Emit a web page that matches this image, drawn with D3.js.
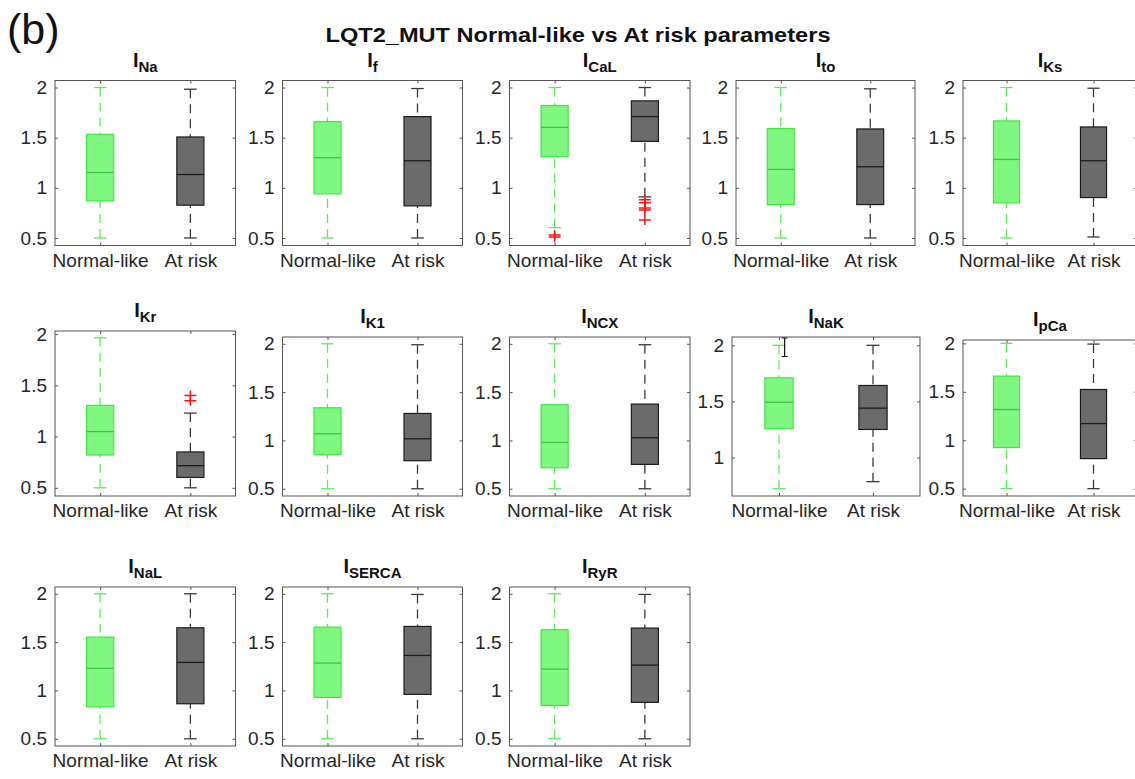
<!DOCTYPE html>
<html>
<head>
<meta charset="utf-8">
<script src="https://cdn.jsdelivr.net/npm/d3@7"></script>
<style>
  body { margin: 0; background: #fff; }
  text { font-family: "Liberation Sans", Arial, sans-serif; }
</style>
</head>
<body>
<svg id="chart" width="1135" height="779"></svg>
<script>
// subscripts of the current names, one panel each
const currents = ["Na", "f", "CaL", "to", "Ks", "Kr", "K1", "NCX", "NaK", "pCa", "NaL", "SERCA", "RyR"];
const groups = ["Normal-like", "At risk"];

// [lower whisker, Q1, median, Q3, upper whisker]
const normalStats = [
    [0.50, 0.87, 1.153, 1.533, 2.00],   // Na
    [0.50, 0.94, 1.30, 1.66, 2.00],     // f
    [0.603, 1.31, 1.603, 1.82, 2.00],   // CaL
    [0.50, 0.833, 1.183, 1.59, 2.00],   // to
    [0.50, 0.85, 1.283, 1.667, 2.00],   // Ks
    [0.50, 0.82, 1.049, 1.304, 1.964],  // Kr
    [0.50, 0.852, 1.069, 1.338, 2.00],  // K1
    [0.50, 0.717, 0.979, 1.369, 2.00],  // NCX
    [0.722, 1.257, 1.493, 1.71, 2.00],  // NaK
    [0.50, 0.924, 1.317, 1.662, 2.00],  // pCa
    [0.50, 0.831, 1.228, 1.552, 2.00],  // NaL
    [0.50, 0.928, 1.283, 1.655, 2.00],  // SERCA
    [0.50, 0.845, 1.221, 1.628, 2.00]   // RyR
];
const riskStats = [
    [0.50, 0.827, 1.133, 1.507, 1.983],
    [0.50, 0.82, 1.27, 1.71, 1.99],
    [0.91, 1.463, 1.71, 1.867, 2.00],
    [0.50, 0.833, 1.21, 1.587, 1.987],
    [0.51, 0.903, 1.27, 1.607, 1.993],
    [0.50, 0.601, 0.716, 0.85, 1.229],
    [0.50, 0.79, 1.017, 1.279, 1.99],
    [0.50, 0.752, 1.028, 1.376, 1.99],
    [0.785, 1.25, 1.44, 1.642, 2.00],
    [0.50, 0.81, 1.172, 1.524, 1.993],
    [0.50, 0.862, 1.29, 1.648, 2.00],
    [0.50, 0.959, 1.362, 1.662, 1.993],
    [0.50, 0.876, 1.262, 1.645, 1.993]
];
const normalOutliers = [[], [], [0.51, 0.53], [], [], [], [], [], [], [], [], [], []];
const riskOutliers = [[], [], [0.88, 0.85, 0.80, 0.78, 0.68], [], [], [1.40, 1.35], [], [], [], [], [], [], []];

const yTicks = [0.5, 1, 1.5, 2];
const yTicksNaK = [1, 1.5, 2];
const yDomain = [0.425, 2.07];

// layout of the subplot grid (MATLAB squeezed some axes a little)
const colX = [55, 282.5, 509.5, 736, 963];
const colW = [180.5, 180, 180.5, 179, 174];
const rowTop = [80.5, 337, 587];
const rowBottom = [245.5, 496, 746];
const override = {
    Kr: { top: 331, domain: [0.42, 2.03] },
    NaK: { x: 732, w: 188, domain: [0.657, 2.074], ticks: yTicksNaK },
    pCa: { top: 340, domain: [0.424, 2.035] }
};

const green = { fill: "#80f780", stroke: "#3fe83f", median: "#3cc43c", whisk: "#5ceb5c" };
const grey = { fill: "#6b6b6b", stroke: "#1c1c1c", median: "#1c1c1c", whisk: "#3a3a3a" };
const frameColor = "#555";
const textColor = "#262626";

const svg = d3.select("#chart");

svg.append("text")
    .attr("x", 7).attr("y", 44)
    .attr("font-size", 43).attr("fill", "#111")
    .text("(b)");

svg.append("text")
    .attr("x", 578).attr("y", 42)
    .attr("text-anchor", "middle")
    .attr("font-size", 21).attr("font-weight", "bold").attr("fill", "#111")
    .attr("textLength", 505).attr("lengthAdjust", "spacingAndGlyphs")
    .text("LQT2_MUT Normal-like vs At risk parameters");

function plus(sel, x, y) {
    sel.append("path")
        .attr("d", `M${x - 6},${y}H${x + 6}M${x},${y - 5}V${y + 5}`)
        .attr("stroke", "#ff1010").attr("stroke-width", 1.5).attr("fill", "none");
}

currents.forEach(function(name, i) {
    const row = Math.floor(i / 5), col = i % 5;
    const o = override[name] || {};
    const x0 = o.x !== undefined ? o.x : colX[col];
    const w = o.w !== undefined ? o.w : colW[col];
    const top = o.top !== undefined ? o.top : rowTop[row];
    const h = rowBottom[row] - top;

    const xScale = d3.scaleLinear().domain([0.5, 2.5]).range([0, w]);
    const yScale = d3.scaleLinear().domain(o.domain || yDomain).range([h, 0]);
    const ticks = o.ticks || yTicks;

    const g = svg.append("g").attr("transform", `translate(${x0},${top})`);

    // title I_{name}
    const t = g.append("text")
        .attr("x", w / 2).attr("y", -14)
        .attr("text-anchor", "middle")
        .attr("font-weight", "bold").attr("fill", "#111");
    t.append("tspan").attr("font-size", 20).text("I");
    t.append("tspan").attr("font-size", 15).attr("dy", 5).text(name);

    // axes, MATLAB style: ticks inside on all four sides
    const axL = g.append("g").call(d3.axisLeft(yScale).tickValues(ticks).tickSize(-3).tickPadding(8)
        .tickFormat(function(d) { return String(d); }));
    const axR = g.append("g").attr("transform", `translate(${w},0)`)
        .call(d3.axisRight(yScale).tickValues(ticks).tickSize(-3).tickFormat(""));
    const axB = g.append("g").attr("transform", `translate(0,${h})`)
        .call(d3.axisBottom(xScale).tickValues([1, 2]).tickSize(-3).tickPadding(8)
            .tickFormat(function(d) { return groups[d - 1]; }));
    const axT = g.append("g")
        .call(d3.axisTop(xScale).tickValues([1, 2]).tickSize(-3).tickFormat(""));
    [axL, axR, axB, axT].forEach(function(a) {
        a.select(".domain").remove();
        a.selectAll("line").attr("stroke", frameColor);
        a.selectAll("text").attr("font-size", 19).attr("fill", textColor)
            .attr("font-family", "Liberation Sans, Arial, sans-serif");
    });

    g.append("rect")
        .attr("width", w).attr("height", h)
        .attr("fill", "none").attr("stroke", frameColor).attr("stroke-width", 1);

    const sets = [
        { pos: 1, s: normalStats[i], out: normalOutliers[i], c: green },
        { pos: 2, s: riskStats[i], out: riskOutliers[i], c: grey }
    ];
    sets.forEach(function(d) {
        const cx = xScale(d.pos);
        const [lo, q1, med, q3, hi] = d.s;
        // dashed whiskers
        g.append("line")
            .attr("x1", cx).attr("x2", cx).attr("y1", yScale(hi)).attr("y2", yScale(q3))
            .attr("stroke", d.c.whisk).attr("stroke-width", 1.3).attr("stroke-dasharray", "9,6");
        g.append("line")
            .attr("x1", cx).attr("x2", cx).attr("y1", yScale(lo)).attr("y2", yScale(q1))
            .attr("stroke", d.c.whisk).attr("stroke-width", 1.3).attr("stroke-dasharray", "9,6");
        // caps
        [lo, hi].forEach(function(v) {
            g.append("line")
                .attr("x1", xScale(d.pos - 0.07)).attr("x2", xScale(d.pos + 0.07))
                .attr("y1", yScale(v)).attr("y2", yScale(v))
                .attr("stroke", d.c.whisk).attr("stroke-width", 1.3);
        });
        // box
        g.append("rect")
            .attr("x", xScale(d.pos - 0.15)).attr("width", xScale(d.pos + 0.15) - xScale(d.pos - 0.15))
            .attr("y", yScale(q3)).attr("height", yScale(q1) - yScale(q3))
            .attr("fill", d.c.fill).attr("stroke", d.c.stroke).attr("stroke-width", 1.2);
        g.append("line")
            .attr("x1", xScale(d.pos - 0.15)).attr("x2", xScale(d.pos + 0.15))
            .attr("y1", yScale(med)).attr("y2", yScale(med))
            .attr("stroke", d.c.median).attr("stroke-width", 1.3);
        d.out.forEach(function(v) { plus(g, cx, yScale(v)); });
    });

    // the text cursor caught in the screenshot over I_NaK
    if (name === "NaK") {
        const cx = xScale(1.06), ya = yScale(2.065), yb = yScale(1.9);
        g.append("path")
            .attr("d", `M${cx - 3},${ya}H${cx + 3}M${cx},${ya}V${yb}M${cx - 3},${yb}H${cx + 3}`)
            .attr("stroke", "#111").attr("stroke-width", 1.2).attr("fill", "none");
    }
});
</script>
</body>
</html>
